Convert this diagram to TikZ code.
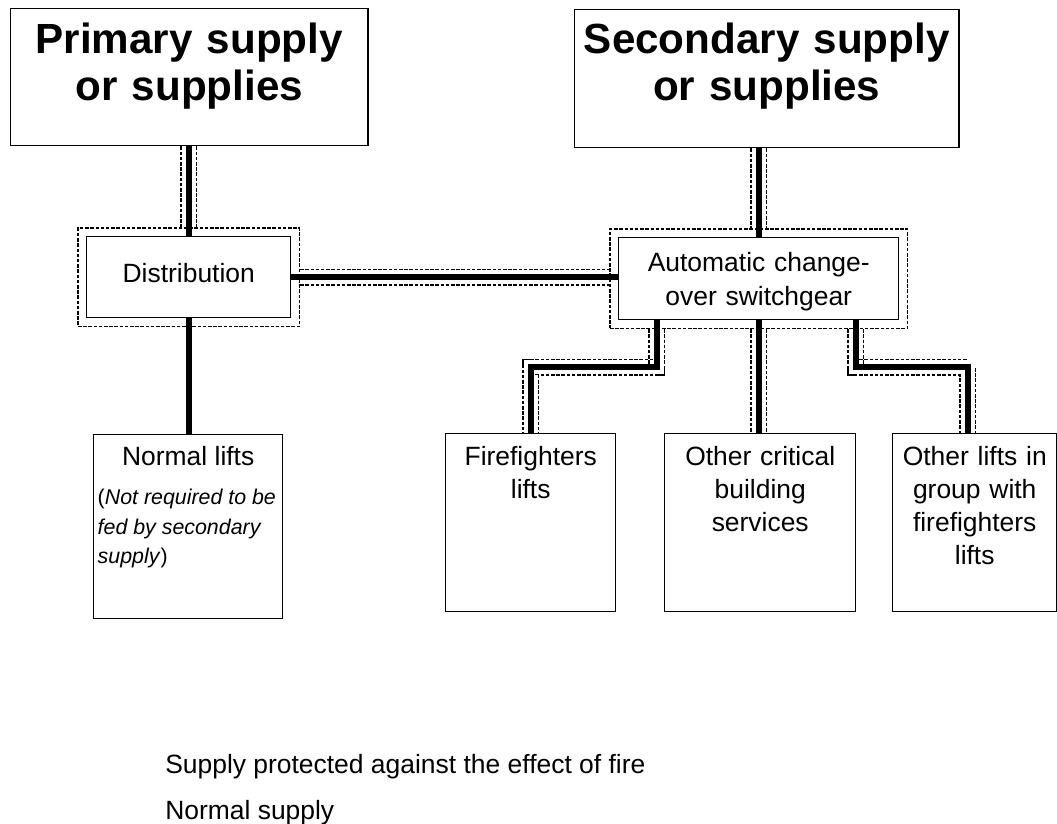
\documentclass[tikz,border=0pt]{standalone}
\usepackage{fontspec}
\setmainfont{Liberation Sans}
\usetikzlibrary{fit,backgrounds}
\tikzset{
  unit/.style={draw, line width=1pt, inner sep=0pt, anchor=north west, align=center,
    font=\fontsize{18.8pt}{23.5pt}\selectfont},
  headline/.style={font=\fontsize{30pt}{33.5pt}\selectfont\bfseries},
  wrap/.style={draw, line width=1pt, dash pattern=on 2.5pt off 1.2pt, inner sep=0.2cm},
  guard/.style={draw, line width=1pt, dash pattern=on 2.5pt off 1.2pt, double=white, double distance=0.35cm},
  feed/.style={line width=4.3pt},
  legend/.style={anchor=base west, inner sep=0pt, font=\fontsize{18.8pt}{23.5pt}\selectfont}
}
\begin{document}
\begin{tikzpicture}[x=0.025cm, y=-0.025cm]
  \useasboundingbox (0,0) rectangle (1057,823);
  \node[unit, headline, text width=8.925cm, text height=1.12cm, text depth=2.305cm] (prim) at (10,8)
    {Primary supply\\or supplies};
  \node[unit, headline, text width=9.6cm, text height=1.1cm, text depth=2.35cm] (sec) at (574,9)
    {Secondary supply\\or supplies};
  \node[unit, text width=5.1cm, text height=1.15cm, text depth=0.875cm] (dist) at (86,236)
    {Distribution};
  \node[unit, text width=7cm, text height=0.85cm, text depth=1.2cm,
    font=\fontsize{18.8pt}{24pt}\selectfont] (acs) at (618,237)
    {Automatic change-\\over switchgear};
  \node[unit, align=none, inner xsep=0.1cm, text width=4.525cm, text height=0.775cm, text depth=3.825cm] (norm) at (93,434)
    {{\centering Normal lifts\par}\vspace{0.24cm}
     {\raggedright\fontsize{15.2pt}{21pt}\selectfont
      (\textit{Not required to be}\\\textit{fed by secondary}\\\textit{supply})\par}};
  \node[unit, text width=4.25cm, text height=0.8cm, text depth=3.65cm] (ffl) at (445,433)
    {Firefighters\\lifts};
  \node[unit, text width=4.775cm, text height=0.8cm, text depth=3.65cm] (crit) at (664,433)
    {Other critical\\building\\services};
  \node[unit, text width=4.1cm, text height=0.8cm, text depth=3.65cm] (grp) at (892,433)
    {Other lifts in\\group with\\firefighters\\lifts};
  \node[legend] (leg1) at (165,773) {Supply protected against the effect of fire};
  \node[legend] (leg2) at (165,819) {Normal supply};
  \node[wrap, fit=(dist)] (distwrap) {};
  \node[wrap, fit=(acs)] (acswrap) {};
  \coordinate (ffeed) at ([xshift=-2.55cm]acs.south);
  \coordinate (gfeed) at ([xshift=2.425cm]acs.south);
  \coordinate (fbend) at ([yshift=-1.175cm]ffeed);
  \coordinate (gbend) at ([yshift=-1.175cm]gfeed);
  \coordinate (gdrop) at ([xshift=-0.175cm]grp.north);
  \begin{scope}[on background layer]
    \draw[guard] (dist.north |- prim.south) -- (dist.north |- distwrap.north);
    \draw[guard] (acs.north |- sec.south) -- (acs.north |- acswrap.north);
    \draw[guard] (distwrap.east) -- (acswrap.west |- distwrap.east);
    \draw[guard] (ffeed |- acswrap.south) -- (fbend) -| (ffl.north);
    \draw[guard] (acs.south |- acswrap.south) -- (acs.south |- crit.north);
    \draw[guard] (gfeed |- acswrap.south) -- (gbend) -| (gdrop);
  \end{scope}
  \draw[feed] (dist.north) -- (dist.north |- prim.south);
  \draw[feed] (acs.north) -- (acs.north |- sec.south);
  \draw[feed] (dist.east) -- (dist.east -| acs.west);
  \draw[feed] (dist.south) -- (dist.south |- norm.north);
  \draw[feed] (ffeed) -- (fbend) -| (ffl.north);
  \draw[feed] (acs.south) -- (acs.south |- crit.north);
  \draw[feed] (gfeed) -- (gbend) -| (gdrop);
\end{tikzpicture}
\end{document}
